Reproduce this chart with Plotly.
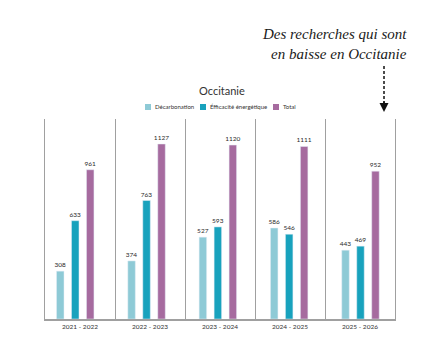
import plotly.graph_objects as go

periods = ["2021 - 2022", "2022 - 2023", "2023 - 2024", "2024 - 2025", "2025 - 2026"]
decarbonation = [308, 374, 527, 586, 443]
efficacite = [633, 763, 593, 546, 469]
total = [961, 1127, 1120, 1111, 952]
series_names = ["Décarbonation", "Éfficacité énergétique", "Total"]
colors = ["#8ecad6", "#18a2bd", "#a66b9f"]

W, H = 427, 354
L, R, T, B = 45, 395, 119, 319

def px(x):
    return (x - L) / (R - L)

def py(y):
    return (B - y) / (B - T)

fig = go.Figure()
pos = list(range(len(periods)))
# invisible trace anchoring the base axes
fig.add_trace(go.Scatter(x=pos, y=[0] * len(pos), mode="markers",
                         marker=dict(opacity=0), hoverinfo="skip", showlegend=False))
for name, vals, col in zip(series_names, [decarbonation, efficacite, total], colors):
    fig.add_trace(go.Bar(
        x=pos, y=vals, name=name, marker_color=col, xaxis="x2",
        text=[str(v) for v in vals], textposition="outside", constraintext="none",
        textfont=dict(size=6.5, color="#2a2a2a", family="Lato"),
        outsidetextfont=dict(size=6.5, color="#2a2a2a", family="Lato"),
        cliponaxis=False, showlegend=False,
    ))

fig.update_layout(
    width=W, height=H,
    margin=dict(l=L, r=W - R, t=T, b=H - B),
    paper_bgcolor="white", plot_bgcolor="white",
    barmode="group", bargap=0.37, bargroupgap=0.5,
    font=dict(family="Lato", color="#333333"),
    xaxis=dict(
        range=[-0.5, 4.5], tickvals=pos, ticktext=periods,
        tickfont=dict(size=6.5, color="#333333"), showgrid=False, zeroline=False,
        showline=True, linecolor="#a0a0a0", linewidth=1.5, ticks="",
        minor=dict(tickvals=[-0.5, 0.5, 1.5, 2.5, 3.5, 4.5], showgrid=True,
                   gridcolor="#a0a0a0", gridwidth=1),
    ),
    xaxis2=dict(range=[-0.424, 4.484], overlaying="x", visible=False),
    yaxis=dict(range=[0, 1288], visible=True, showgrid=False, zeroline=False,
               showticklabels=False, ticks="", showline=True, mirror=True,
               linecolor="#a0a0a0", linewidth=1),
    showlegend=False,
)

annotations = [
    dict(text="Occitanie", x=px(222), y=py(90), xref="paper", yref="paper",
         xanchor="center", yanchor="middle",
         showarrow=False, font=dict(size=11, color="#333333", family="Lato")),
    dict(text="<i>Des recherches qui sont<br>en baisse en Occitanie</i>",
         x=px(409), y=py(44), xref="paper", yref="paper", xanchor="right",
         yanchor="middle", align="right", showarrow=False,
         font=dict(size=15, color="#1a1a1a", family="Liberation Serif")),
    dict(text="", x=px(384), y=py(112), xref="paper", yref="paper",
         ax=0, ay=-12, showarrow=True, arrowhead=2, arrowsize=1.2,
         arrowwidth=1.5, arrowcolor="#111111"),
]

shapes = [
    dict(type="line", xref="paper", yref="paper", x0=px(384), x1=px(384),
         y0=py(66), y1=py(104), line=dict(color="#111111", width=1.5, dash="3px,2px")),
]

leg_x = [145, 200, 273]
for name, col, lx in zip(series_names, colors, leg_x):
    shapes.append(dict(type="rect", xref="paper", yref="paper",
                       x0=px(lx), x1=px(lx + 6), y0=py(110), y1=py(104),
                       fillcolor=col, line=dict(width=0)))
    annotations.append(dict(text=name, x=px(lx + 8), y=py(107), xref="paper",
                            yref="paper", xanchor="left", yanchor="middle",
                            showarrow=False,
                            font=dict(size=6, color="#333333", family="Lato")))

fig.update_layout(annotations=annotations, shapes=shapes)
fig.write_html("out.html")
